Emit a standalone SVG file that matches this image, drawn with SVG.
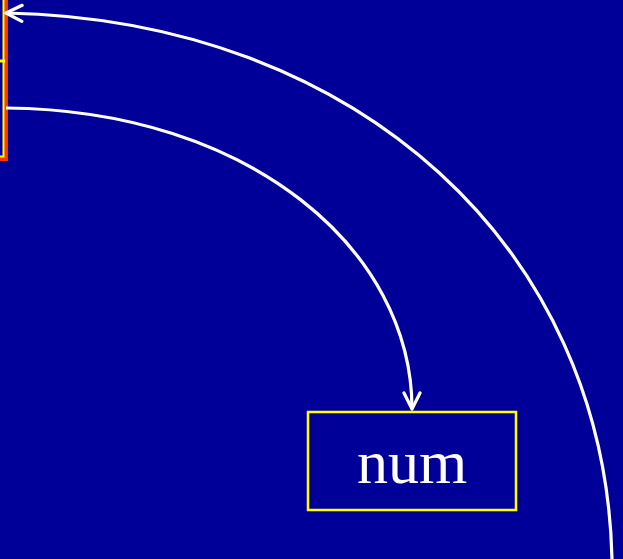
<svg xmlns="http://www.w3.org/2000/svg" width="623" height="559" viewBox="0 0 623 559">
<defs>
<style>
.conn{fill:none;stroke:#FFFFFF;stroke-width:3.2}
.lbl{font-family:"Liberation Serif",serif;font-size:62px;fill:#FFFFFF;text-anchor:middle}
</style>
<marker id="open" viewBox="0 0 20 20" refX="18" refY="10" markerWidth="20" markerHeight="20" markerUnits="userSpaceOnUse" orient="auto">
<path d="M2,2 L18,10 L2,18" fill="none" stroke="#FFFFFF" stroke-width="3.2" stroke-linecap="round" stroke-linejoin="round"/>
</marker>
</defs>
<rect width="623" height="559" fill="#000099"/>
<g id="array">
<rect x="-10" y="-10" width="16" height="169" fill="none" stroke="#FF3300" stroke-width="4"/>
<rect x="-10" y="-10" width="13.5" height="166.5" fill="none" stroke="#FFFF00" stroke-width="2"/>
<line x1="0" y1="61" x2="5" y2="61" stroke="#FFFF00" stroke-width="3"/>
</g>
<g id="num">
<rect x="308" y="412" width="208" height="98" fill="none" stroke="#FFFF00" stroke-width="2.5"/>
<text class="lbl" x="412" y="483">num</text>
</g>
<g id="connectors">
<path class="conn" d="M6,108 C250,110 412,250 412,409" marker-end="url(#open)"/>
<path class="conn" d="M612,559 C605,250 360,20 6,13" marker-end="url(#open)"/>
</g>
</svg>
